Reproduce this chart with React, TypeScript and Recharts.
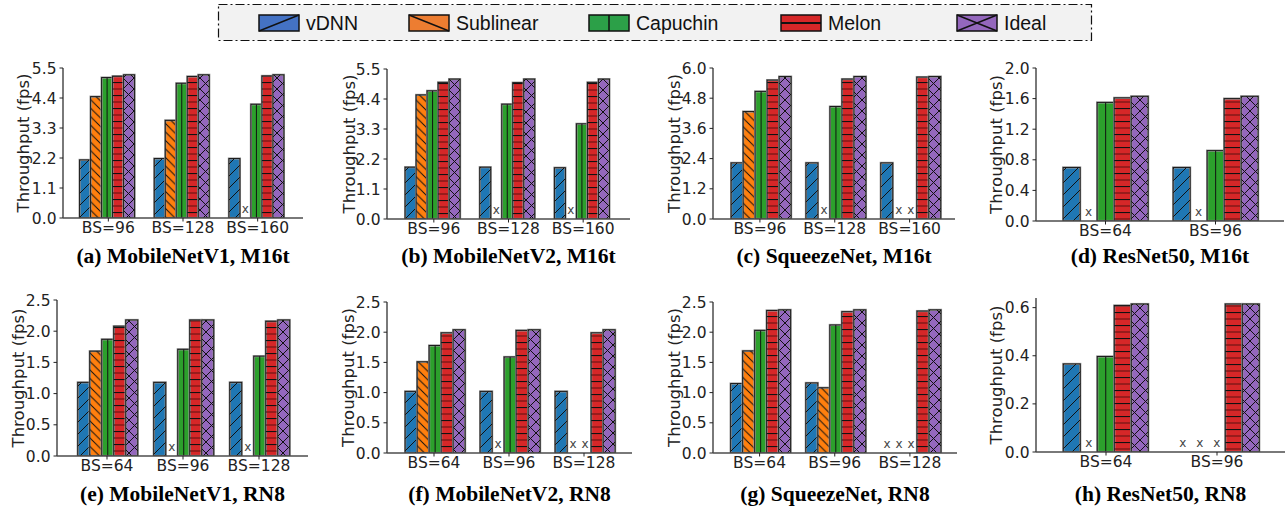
import { BarChart, Bar, XAxis, YAxis, LabelList } from 'recharts';

// series
const SERIES = ['vDNN', 'Sublinear', 'Capuchin', 'Melon', 'Ideal'];
const KEYS = ['vdnn', 'sublinear', 'capuchin', 'melon', 'ideal'];
const BAR_COLORS = ['#1f77b4', '#ff7f0e', '#2ca02c', '#d62728', '#9467bd'];
const LEGEND_COLORS = ['#4472c4', '#ed7d31', '#2ca048', '#d62728', '#9467bd'];

// (a) MobileNetV1, M16t
const catsA = ['BS=96', 'BS=128', 'BS=160'];
const vdnnA = [2.13, 2.18, 2.18];
const sublinearA = [4.45, 3.58, 0];
const capuchinA = [5.15, 4.94, 4.17];
const melonA = [5.2, 5.19, 5.21];
const idealA = [5.25, 5.25, 5.25];
const ticksA = [0, 1.1, 2.2, 3.3, 4.4, 5.5];

// (b) MobileNetV2, M16t
const catsB = ['BS=96', 'BS=128', 'BS=160'];
const vdnnB = [1.9, 1.9, 1.88];
const sublinearB = [4.55, 0, 0];
const capuchinB = [4.7, 4.21, 3.49];
const melonB = [5.01, 5.0, 5.01];
const idealB = [5.13, 5.13, 5.13];
const ticksB = [0, 1.1, 2.2, 3.3, 4.4, 5.5];

// (c) SqueezeNet, M16t
const catsC = ['BS=96', 'BS=128', 'BS=160'];
const vdnnC = [2.23, 2.23, 2.23];
const sublinearC = [4.27, 0, 0];
const capuchinC = [5.07, 4.47, 0];
const melonC = [5.52, 5.56, 5.64];
const idealC = [5.66, 5.66, 5.66];
const ticksC = [0, 1.2, 2.4, 3.6, 4.8, 6.0];

// (d) ResNet50, M16t
const catsD = ['BS=64', 'BS=96'];
const vdnnD = [0.7, 0.7];
const sublinearD = [0, 0];
const capuchinD = [1.55, 0.92];
const melonD = [1.61, 1.6];
const idealD = [1.63, 1.63];
const ticksD = [0, 0.4, 0.8, 1.2, 1.6, 2.0];

// (e) MobileNetV1, RN8
const catsE = ['BS=64', 'BS=96', 'BS=128'];
const vdnnE = [1.18, 1.18, 1.18];
const sublinearE = [1.68, 0, 0];
const capuchinE = [1.87, 1.71, 1.6];
const melonE = [2.08, 2.18, 2.16];
const idealE = [2.18, 2.18, 2.18];
const ticksE = [0, 0.5, 1.0, 1.5, 2.0, 2.5];

// (f) MobileNetV2, RN8
const catsF = ['BS=64', 'BS=96', 'BS=128'];
const vdnnF = [1.02, 1.02, 1.02];
const sublinearF = [1.51, 0, 0];
const capuchinF = [1.78, 1.59, 0];
const melonF = [1.99, 2.03, 1.99];
const idealF = [2.04, 2.04, 2.04];
const ticksF = [0, 0.5, 1.0, 1.5, 2.0, 2.5];

// (g) SqueezeNet, RN8
const catsG = ['BS=64', 'BS=96', 'BS=128'];
const vdnnG = [1.15, 1.16, 0];
const sublinearG = [1.69, 1.08, 0];
const capuchinG = [2.03, 2.12, 0];
const melonG = [2.36, 2.34, 2.35];
const idealG = [2.37, 2.37, 2.37];
const ticksG = [0, 0.5, 1.0, 1.5, 2.0, 2.5];

// (h) ResNet50, RN8
const catsH = ['BS=64', 'BS=96'];
const vdnnH = [0.366, 0];
const sublinearH = [0, 0];
const capuchinH = [0.397, 0];
const melonH = [0.609, 0.615];
const idealH = [0.615, 0.615];
const ticksH = [0, 0.2, 0.4, 0.6];

const FONT = "'DejaVu Sans', sans-serif";
const SPINE = '#4d4d4d';
const INK = '#222';

interface Panel {
  id: string;
  title: string;
  cats: string[];
  series: number[][];
  yMax: number;
  ticks: number[];
  left: number;
  right: number;
  top: number;
  bottom: number;
  labelX: number;
  padL: number;
  padR: number;
}

const PANELS: Panel[] = [
  { id: 'a', title: '(a) MobileNetV1, M16t', cats: catsA, series: [vdnnA, sublinearA, capuchinA, melonA, idealA], yMax: 5.5, ticks: ticksA, left: 63, right: 303, top: 68, bottom: 218, labelX: 23, padL: 8, padR: 8 },
  { id: 'b', title: '(b) MobileNetV2, M16t', cats: catsB, series: [vdnnB, sublinearB, capuchinB, melonB, idealB], yMax: 5.5, ticks: ticksB, left: 387, right: 630, top: 69, bottom: 219, labelX: 349, padL: 9.5, padR: 9.5 },
  { id: 'c', title: '(c) SqueezeNet, M16t', cats: catsC, series: [vdnnC, sublinearC, capuchinC, melonC, idealC], yMax: 6.0, ticks: ticksC, left: 713, right: 955, top: 68, bottom: 219, labelX: 674, padL: 9.5, padR: 8 },
  { id: 'd', title: '(d) ResNet50, M16t', cats: catsD, series: [vdnnD, sublinearD, capuchinD, melonD, idealD], yMax: 2.0, ticks: ticksD, left: 1036, right: 1284, top: 68, bottom: 221, labelX: 996, padL: 14.5, padR: 13.5 },
  { id: 'e', title: '(e) MobileNetV1, RN8', cats: catsE, series: [vdnnE, sublinearE, capuchinE, melonE, idealE], yMax: 2.5, ticks: ticksE, left: 57, right: 308, top: 300, bottom: 456, labelX: 18, padL: 12, padR: 11 },
  { id: 'f', title: '(f) MobileNetV2, RN8', cats: catsF, series: [vdnnF, sublinearF, capuchinF, melonF, idealF], yMax: 2.5, ticks: ticksF, left: 387, right: 632, top: 302, bottom: 453, labelX: 348, padL: 9.5, padR: 10.5 },
  { id: 'g', title: '(g) SqueezeNet, RN8', cats: catsG, series: [vdnnG, sublinearG, capuchinG, melonG, idealG], yMax: 2.5, ticks: ticksG, left: 713, right: 957, top: 302, bottom: 453, labelX: 674, padL: 9, padR: 9.5 },
  { id: 'h', title: '(h) ResNet50, RN8', cats: catsH, series: [vdnnH, sublinearH, capuchinH, melonH, idealH], yMax: 0.64, ticks: ticksH, left: 1036, right: 1285, top: 298, bottom: 452, labelX: 996, padL: 14.5, padR: 12.5 },
];

function HatchBar(props: any) {
  const { x, y, width, height, fill, kind, pid } = props;
  if (!height || height <= 0 || !width) return null;
  return (
    <g>
      <rect x={x} y={y} width={width} height={height} fill={fill} stroke="#9a9a9a" strokeWidth={2.2} />
      {kind === 'capuchin' ? (
        <line x1={x + width / 2} x2={x + width / 2} y1={y} y2={y + height} stroke="#111" strokeWidth={1} />
      ) : (
        <rect x={x} y={y} width={width} height={height} fill={`url(#${pid}-${kind})`} />
      )}
      <rect x={x} y={y} width={width} height={height} fill="none" stroke="#1a1a1a" strokeWidth={1} />
    </g>
  );
}

const renderMissing = (props: any) => {
  const vb = props.viewBox ?? props;
  const x = props.x ?? vb.x;
  const y = props.y ?? vb.y;
  const width = props.width ?? vb.width;
  if (props.value !== 0) return null;
  return (
    <text x={x + width / 2} y={y - 5} textAnchor="middle" fontSize={12} fill="#444" fontFamily={FONT}>
      x
    </text>
  );
};

function PanelChart({ p }: { p: Panel }) {
  const data = p.cats.map((bs, i) => {
    const row: Record<string, number | string> = { bs };
    KEYS.forEach((k, s) => {
      row[k] = p.series[s][i];
    });
    return row;
  });
  const chartLeft = p.labelX - 10;
  const topM = 12;
  const xAxisH = 30;
  const width = p.right - chartLeft + 2;
  const height = p.bottom - p.top + topM + xAxisH;
  const spine = { stroke: SPINE, strokeWidth: 1.5 };

  return (
    <div style={{ position: 'absolute', left: chartLeft, top: p.top - topM }}>
      <BarChart
        width={width}
        height={height}
        data={data}
        margin={{ top: topM, right: 2, left: 0, bottom: 0 }}
        barGap={0}
        barCategoryGap="11.5%"
      >
        <defs>
          <pattern id={`${p.id}-vdnn`} patternUnits="userSpaceOnUse" width={12} height={12}>
            <path d="M0,12 L12,0 M-3,3 L3,-3 M9,15 L15,9" stroke="#111" strokeWidth={1} />
          </pattern>
          <pattern id={`${p.id}-sublinear`} patternUnits="userSpaceOnUse" width={8.5} height={8.5}>
            <path d="M0,0 L8.5,8.5 M-2,6.5 L2,10.5 M6.5,-2 L10.5,2" stroke="#111" strokeWidth={1} />
          </pattern>
          <pattern id={`${p.id}-melon`} patternUnits="userSpaceOnUse" width={13} height={13}>
            <line x1={0} x2={13} y1={0.5} y2={0.5} stroke="#111" strokeWidth={1.2} />
            <line x1={0} x2={13} y1={7} y2={7} stroke="#6e1414" strokeWidth={1.2} />
          </pattern>
          <pattern id={`${p.id}-ideal`} patternUnits="userSpaceOnUse" width={11} height={11}>
            <path d="M0,0 L11,11 M0,11 L11,0" stroke="#111" strokeWidth={1} />
          </pattern>
        </defs>
        <XAxis
          dataKey="bs"
          interval={0}
          padding={{ left: p.padL, right: p.padR }}
          height={xAxisH}
          tickSize={3.5}
          tickMargin={0.5}
          tick={{ fontSize: 15.5, fill: INK, fontFamily: FONT }}
          tickLine={{ stroke: INK }}
          axisLine={spine}
        />
        <XAxis xAxisId="top" orientation="top" dataKey="bs" height={0} tick={false} tickLine={false} axisLine={spine} />
        <YAxis
          domain={[0, p.yMax]}
          ticks={p.ticks}
          interval={0}
          allowDataOverflow
          width={p.left - chartLeft}
          tickSize={3.5}
          tickMargin={3}
          tickFormatter={(v: number) => v.toFixed(1)}
          tick={{ fontSize: 15.5, fill: INK, fontFamily: FONT }}
          tickLine={{ stroke: INK }}
          axisLine={spine}
          label={{
            value: 'Throughput (fps)',
            angle: -90,
            position: 'insideLeft',
            offset: 10,
            style: { textAnchor: 'middle', fontSize: 16.5, fill: INK, fontFamily: FONT },
          }}
        />
        <YAxis yAxisId="right" orientation="right" width={0} tick={false} tickLine={false} axisLine={spine} />
        {KEYS.map((k, s) => (
          <Bar
            key={k}
            dataKey={k}
            name={SERIES[s]}
            fill={BAR_COLORS[s]}
            isAnimationActive={false}
            shape={(bp: any) => <HatchBar {...bp} kind={k} pid={p.id} />}
          >
            <LabelList dataKey={k} content={renderMissing} />
          </Bar>
        ))}
      </BarChart>
    </div>
  );
}

function LegendSwatch({ x, y, i }: { x: number; y: number; i: number }) {
  const w = 40;
  const h = 16;
  const line = { stroke: '#111', strokeWidth: 1.5 };
  return (
    <g>
      <rect x={x} y={y} width={w} height={h} fill={LEGEND_COLORS[i]} />
      {i === 0 && <line x1={x} y1={y + h} x2={x + w} y2={y} {...line} />}
      {i === 1 && <line x1={x} y1={y} x2={x + w} y2={y + h} {...line} />}
      {i === 2 && <line x1={x + w / 2} y1={y} x2={x + w / 2} y2={y + h} {...line} />}
      {i === 3 && <line x1={x} y1={y + h / 2} x2={x + w} y2={y + h / 2} stroke="#111" strokeWidth={2} />}
      {i === 4 && (
        <path d={`M${x},${y} L${x + w},${y + h} M${x},${y + h} L${x + w},${y}`} {...line} />
      )}
      <rect x={x} y={y} width={w} height={h} fill="none" stroke="#111" strokeWidth={1.5} />
    </g>
  );
}

function TopLegend() {
  const swatchX = [259, 409, 589, 781, 957];
  return (
    <svg width={1286} height={46} style={{ position: 'absolute', left: 0, top: 0 }}>
      <rect x={218.5} y={4.5} width={873} height={36} fill="#f2f2f2" stroke="#111" strokeWidth={1.2} strokeDasharray="9,3,2,3" />
      {SERIES.map((name, i) => (
        <g key={name}>
          <LegendSwatch x={swatchX[i]} y={15} i={i} />
          <text x={swatchX[i] + 47} y={23} dominantBaseline="central" fontSize={19.5} fill="#111" fontFamily="'Liberation Sans', Arial, sans-serif">
            {name}
          </text>
        </g>
      ))}
    </svg>
  );
}

export default function App() {
  return (
    <div style={{ position: 'absolute', left: 0, top: 0, width: 1286, height: 510, background: '#fff', overflow: 'hidden' }}>
      <TopLegend />
      {PANELS.map((p) => (
        <PanelChart key={p.id} p={p} />
      ))}
      {PANELS.map((p) => (
        <div
          key={`t-${p.id}`}
          style={{
            position: 'absolute',
            left: p.left - 40,
            width: p.right - p.left + 80,
            top: (p.top < 200 ? 256 : 494) - 12,
            height: 24,
            lineHeight: '24px',
            textAlign: 'center',
            fontFamily: "'Liberation Serif', 'Times New Roman', serif",
            fontWeight: 'bold',
            fontSize: 21.5,
            color: '#000',
            whiteSpace: 'nowrap',
          }}
        >
          {p.title}
        </div>
      ))}
    </div>
  );
}
